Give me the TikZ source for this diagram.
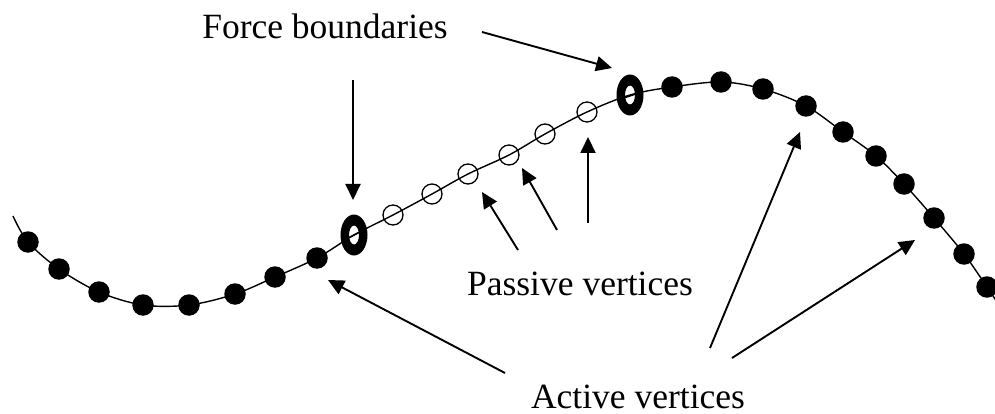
\documentclass[tikz,border=0pt]{standalone}
\usepackage{fontspec}
\setmainfont{Liberation Serif}
\usetikzlibrary{arrows.meta}
\begin{document}
\begin{tikzpicture}[x=1pt,y=-1pt,
  curveline/.style={line width=1.4pt,black},
  activedot/.style={circle,fill=black,minimum size=21.5pt,inner sep=0pt},
  passivedot/.style={circle,draw=black,line width=1.3pt,minimum size=20pt,inner sep=0pt},
  boundring/.style={fill=black,even odd rule},
  lbl/.style={font=\fontsize{35.5}{40}\selectfont,inner sep=0pt,anchor=base},
  pointer/.style={line width=1.9pt,-{Triangle[length=16pt,width=15pt]}},
]
\useasboundingbox (0,0) rectangle (995,414);
% curve
\draw[curveline] plot[smooth,tension=0.55] coordinates {(13,216) (28,242) (59,269) (99,292) (143,305) (189,305) (235,294) (275,277) (317,258) (354,235) (393,215) (432,194) (468,174) (509,155) (545,134) (587,112) (630,95) (672,87) (721,82) (763,89) (806,106) (843,132) (876,156) (904,184) (934,218) (964,254) (987,287) (997,302)};
% active vertices
\foreach \p [count=\i] in {(28,242),(59,269),(99,292),(143,305),(189,305),(235,294),(275,277),(317,258)}
  \node[activedot] (a\i) at \p {};
\foreach \p [count=\i] in {(672,87),(721,82),(763,89),(806,106),(843,132),(876,156),(904,184),(934,218),(964,254),(987,287)}
  \node[activedot] (b\i) at \p {};
% passive vertices
\foreach \p [count=\i] in {(393,215),(432,194),(468,174),(509,155),(545,134),(587,112)}
  \node[passivedot] (p\i) at \p {};
% force boundaries (thick rings)
\coordinate (r1) at (354,235);
\coordinate (r2) at (630,95);
\fill[boundring] (r1) ellipse [x radius=13.5, y radius=20.5] (r1) ellipse [x radius=5, y radius=9.5];
\fill[boundring] (r2) ellipse [x radius=13.5, y radius=20.5] (r2) ellipse [x radius=5, y radius=9.5];
\draw[curveline] (342,241) -- (366,229);
\draw[curveline] (618,100) -- (642,92);
% labels
\node[lbl] (force) at (325,39) {Force boundaries};
\node[lbl] (passive) at (580,295) {Passive vertices};
\node[lbl] (active) at (638,408) {Active vertices};
% arrow ends
\coordinate (f1s) at (482,32);  \coordinate (f1e) at (612,68);
\coordinate (f2s) at (353,80);  \coordinate (f2e) at (353,200);
\coordinate (p1s) at (518,250); \coordinate (p1e) at (482,192);
\coordinate (p2s) at (557,230); \coordinate (p2e) at (522,168);
\coordinate (p3s) at (588,223); \coordinate (p3e) at (588,137);
\coordinate (a1s) at (505,373); \coordinate (a1e) at (328,280);
\coordinate (a2s) at (710,348); \coordinate (a2e) at (800,132);
\coordinate (a3s) at (732,358); \coordinate (a3e) at (915,240);
\draw[pointer] (f1s) -- (f1e);
\draw[pointer] (f2s) -- (f2e);
\draw[pointer] (p1s) -- (p1e);
\draw[pointer] (p2s) -- (p2e);
\draw[pointer] (p3s) -- (p3e);
\draw[pointer] (a1s) -- (a1e);
\draw[pointer] (a2s) -- (a2e);
\draw[pointer] (a3s) -- (a3e);
\end{tikzpicture}
\end{document}
